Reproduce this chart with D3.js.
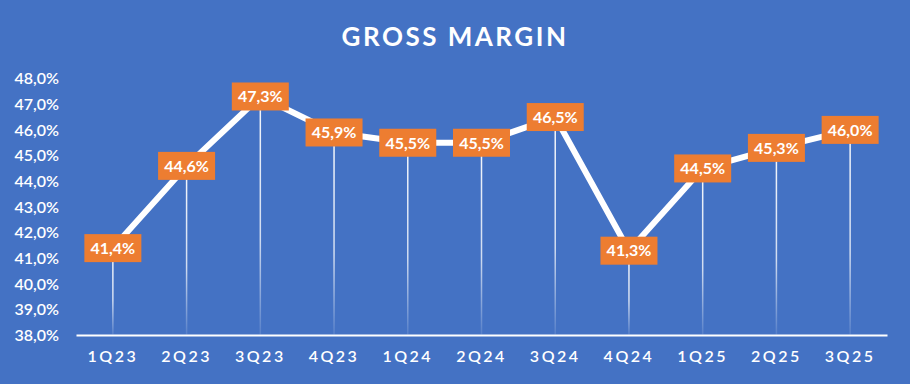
<!DOCTYPE html>
<html>
<head>
<meta charset="utf-8">
<script src="https://cdn.jsdelivr.net/npm/d3@7"></script>
<style>
  body { margin: 0; background: #fff; }
  text { font-family: Lato, "Open Sans", sans-serif; }
</style>
</head>
<body>
<div id="chart"></div>
<script>
// data
var quarters = ["1Q23", "2Q23", "3Q23", "4Q23", "1Q24", "2Q24", "3Q24", "4Q24", "1Q25", "2Q25", "3Q25"];
var margins = [41.4, 44.6, 47.3, 45.9, 45.5, 45.5, 46.5, 41.3, 44.5, 45.3, 46.0];
var yTicks = [38, 39, 40, 41, 42, 43, 44, 45, 46, 47, 48];

var SVGwidth = 910,
    SVGheight = 384,
    margin = {top: 78, right: 23, bottom: 49, left: 76},
    width = SVGwidth - margin.left - margin.right,
    height = SVGheight - margin.top - margin.bottom;

var fmt = function(v) { return v.toFixed(1).replace(".", ",") + "%"; };

var svg = d3.select("#chart").append("svg")
    .attr("width", SVGwidth)
    .attr("height", SVGheight);

svg.append("rect")
    .attr("width", SVGwidth).attr("height", SVGheight)
    .attr("fill", "#4472C4");

var defs = svg.append("defs");
var grad = defs.append("linearGradient")
    .attr("id", "drop")
    .attr("x1", 0).attr("y1", 0).attr("x2", 0).attr("y2", 1);
grad.append("stop").attr("offset", "0%").attr("stop-color", "#fff").attr("stop-opacity", 0.95);
grad.append("stop").attr("offset", "60%").attr("stop-color", "#fff").attr("stop-opacity", 0.75);
grad.append("stop").attr("offset", "100%").attr("stop-color", "#fff").attr("stop-opacity", 0.1);

svg.append("text")
    .attr("x", SVGwidth / 2)
    .attr("y", 46)
    .attr("text-anchor", "middle")
    .attr("fill", "#fff")
    .style("font-size", "26px")
    .style("font-weight", "bold")
    .style("letter-spacing", "2.5px")
    .text("GROSS MARGIN");

var g = svg.append("g").attr("transform", "translate(" + margin.left + "," + margin.top + ")");

var x = d3.scaleBand().domain(quarters).range([0, width]);
var y = d3.scaleLinear().domain([38, 48]).range([height + 0.5, 0.5]);

// y axis labels
var yAxis = d3.axisLeft(y).tickValues(yTicks).tickSize(0)
    .tickFormat(function(d) { return d.toFixed(1).replace(".", ",") + "%"; });
var ya = g.append("g").call(yAxis);
ya.select(".domain").remove();
ya.selectAll("text")
    .attr("fill", "#fff")
    .style("font-size", "16px")
    .style("font-weight", "600")
    .attr("x", -17);

// x axis
var xAxis = d3.axisBottom(x).tickSize(0).tickPadding(16);
var xa = g.append("g").attr("transform", "translate(0," + height + ")").call(xAxis);
xa.select(".domain").attr("stroke", "#fff").attr("stroke-width", 2);
xa.selectAll("text")
    .attr("fill", "#fff")
    .style("font-size", "16px")
    .style("font-weight", "600")
    .style("letter-spacing", "2.5px");

var cx = function(d, i) { return x(quarters[i]) + x.bandwidth() / 2; };

// drop lines
g.selectAll(".drop")
    .data(margins)
    .enter().append("rect")
    .attr("class", "drop")
    .attr("x", function(d, i) { return cx(d, i) - 0.75; })
    .attr("y", function(d) { return y(d); })
    .attr("width", 1.5)
    .attr("height", function(d) { return y(38) - y(d) - 1; })
    .attr("fill", "url(#drop)");

// line
var line = d3.line()
    .x(function(d, i) { return cx(d, i); })
    .y(function(d) { return y(d); });

g.append("path")
    .datum(margins)
    .attr("fill", "none")
    .attr("stroke", "#fff")
    .attr("stroke-width", 6)
    .attr("stroke-linejoin", "round")
    .attr("d", line);

// labels
var lab = g.selectAll(".lab")
    .data(margins)
    .enter().append("g")
    .attr("class", "lab")
    .attr("transform", function(d, i) { return "translate(" + cx(d, i) + "," + y(d) + ")"; });

lab.append("rect")
    .attr("x", -28.5).attr("y", -14)
    .attr("width", 57).attr("height", 28)
    .attr("fill", "#ED7D31");

lab.append("text")
    .attr("text-anchor", "middle")
    .attr("dy", "0.36em")
    .attr("fill", "#fff")
    .style("font-size", "16px")
    .style("font-weight", "bold")
    .text(fmt);
</script>
</body>
</html>
